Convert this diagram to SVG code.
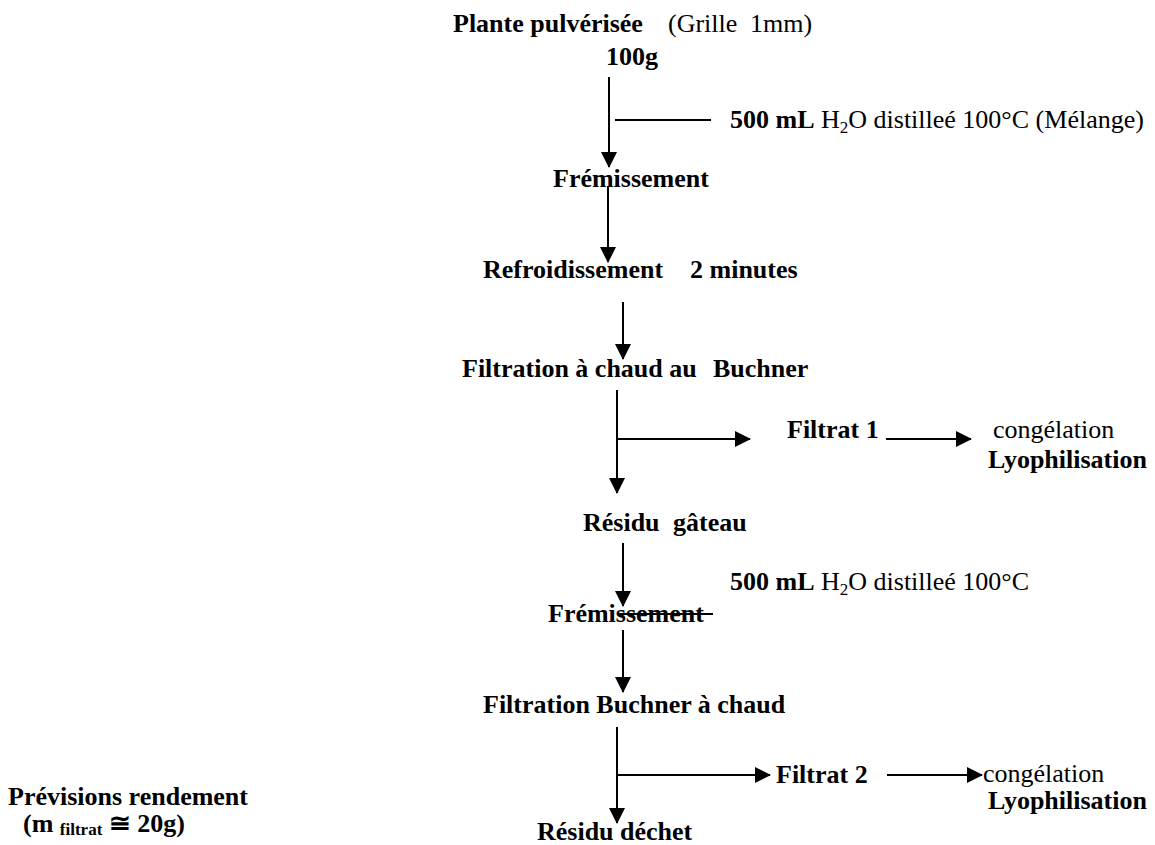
<svg xmlns="http://www.w3.org/2000/svg" width="1155" height="845" viewBox="0 0 1155 845">
<style>
text{font-family:"Liberation Serif","Times New Roman",serif;font-size:26px;fill:#000}
.b{font-weight:bold}
.sub{font-size:17px}
.ln{stroke:#000;stroke-width:2;fill:none}
.ar{stroke:#000;stroke-width:2;fill:none;marker-end:url(#ah)}
</style>
<defs>
<marker id="ah" viewBox="0 0 16 16" markerWidth="16" markerHeight="16" markerUnits="userSpaceOnUse" refX="15" refY="8" orient="auto">
<path d="M0,0 L16,8 L0,16 z" fill="#000"/>
</marker>
</defs>
<rect width="1155" height="845" fill="#fff"/>
<g id="connectors">
<line class="ar" x1="609" y1="77" x2="609" y2="167"/>
<line class="ln" x1="615" y1="120" x2="711" y2="120"/>
<line class="ar" x1="608" y1="186" x2="608" y2="262"/>
<line class="ar" x1="623" y1="302" x2="623" y2="359"/>
<line class="ar" x1="617" y1="390" x2="617" y2="493"/>
<line class="ar" x1="617" y1="439" x2="750" y2="439"/>
<line class="ar" x1="886" y1="439" x2="971" y2="439"/>
<line class="ar" x1="623" y1="543" x2="623" y2="606"/>
<line class="ln" x1="618" y1="614" x2="713" y2="614"/>
<line class="ar" x1="623" y1="630" x2="623" y2="692"/>
<line class="ar" x1="617" y1="727" x2="617" y2="823"/>
<line class="ar" x1="617" y1="775" x2="770" y2="775"/>
<line class="ar" x1="887" y1="775" x2="982" y2="775"/>
</g>
<g id="n-plante"><text x="453" y="32"><tspan class="b">Plante pulvérisée</tspan><tspan x="668">(Grille</tspan><tspan x="750">1mm)</tspan></text></g>
<g id="n-100g"><text class="b" x="606" y="65">100g</text></g>
<g id="n-eau1"><text x="730" y="128"><tspan class="b">500 mL</tspan> H<tspan class="sub" dy="5">2</tspan><tspan dy="-5">O distilleé 100°C (Mélange)</tspan></text></g>
<g id="n-fremissement1"><text class="b" x="553" y="187">Frémissement</text></g>
<g id="n-refroid"><text class="b" x="483" y="278">Refroidissement<tspan x="690">2 minutes</tspan></text></g>
<g id="n-filtration1"><text class="b" x="462" y="377">Filtration à chaud au<tspan x="713">Buchner</tspan></text></g>
<g id="n-filtrat1"><text class="b" x="787" y="438">Filtrat 1</text></g>
<g id="n-lyo1"><text x="993" y="438">congélation</text><text class="b" x="988" y="468">Lyophilisation</text></g>
<g id="n-residu1"><text class="b" x="583" y="531">Résidu<tspan x="673">gâteau</tspan></text></g>
<g id="n-eau2"><text x="730" y="590"><tspan class="b">500 mL</tspan> H<tspan class="sub" dy="5">2</tspan><tspan dy="-5">O distilleé 100°C</tspan></text></g>
<g id="n-fremissement2"><text class="b" x="548" y="622">Frémissement</text></g>
<g id="n-filtration2"><text class="b" x="483" y="713">Filtration Buchner à chaud</text></g>
<g id="n-filtrat2"><text class="b" x="776" y="783">Filtrat 2</text></g>
<g id="n-lyo2"><text x="983" y="782">congélation</text><text class="b" x="988" y="809">Lyophilisation</text></g>
<g id="n-residu2"><text class="b" x="537" y="840">Résidu déchet</text></g>
<g id="n-rendement"><text class="b" x="8" y="805">Prévisions rendement</text><text class="b" x="23" y="832">(m <tspan class="sub" dy="3">filtrat</tspan><tspan dy="-3"> ≅ 20g)</tspan></text></g>
</svg>
